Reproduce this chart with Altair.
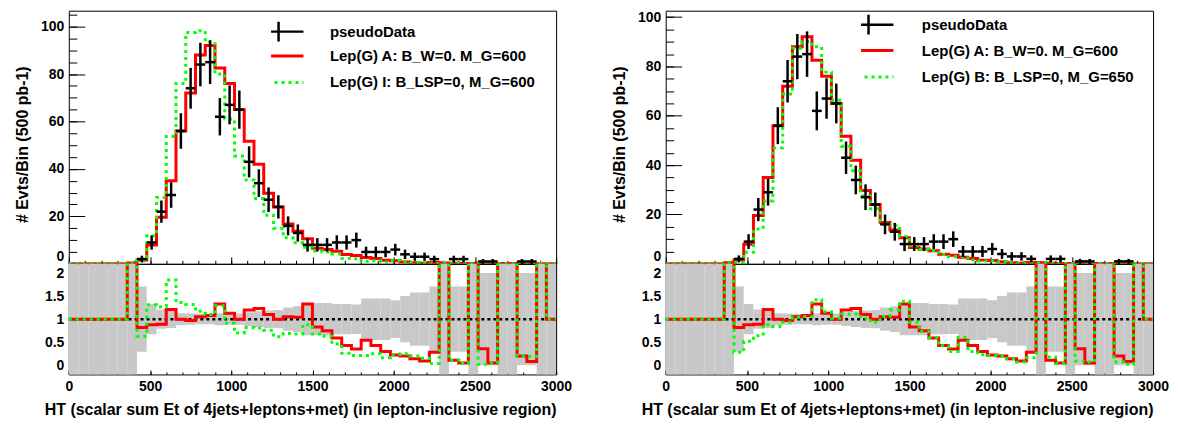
import altair as alt
import pandas as pd

# ---------------- binning ----------------
X_MIN, X_MAX, N_BINS, BIN_WIDTH = 0, 3000, 50, 60

# ---------------- values ----------------
pseudo_data = [0, 0, 0, 0, 0, 0, 0, 2, 9, 22, 29, 56, 74, 84, 85, 62, 67, 65, 43, 34,
               27, 24, 16, 13, 8, 8, 8, 9, 9, 10, 5, 5, 5, 6, 4, 3, 3, 2, 0, 2,
               2, 0, 1, 1, 0, 0, 1, 1, 0, 0]
pseudo_err = [0, 0, 0, 0, 0, 0, 0, 1.41, 3.0, 4.69, 5.39, 7.48, 8.6, 9.17, 9.22, 7.87, 8.19, 8.06, 6.56, 5.83,
              5.2, 4.9, 4.0, 3.61, 2.83, 2.83, 2.83, 3.0, 3.0, 3.16, 2.24, 2.24, 2.24, 2.45, 2.0, 1.73, 1.73, 1.41, 0, 1.41,
              1.41, 0, 1.0, 1.0, 0, 0, 1.0, 1.0, 0, 0]
# half width of the grey band in the ratio pad (9 = whole pad, empty data bin)
band_half = [9, 9, 9, 9, 9, 9, 9, 0.71, 0.33, 0.21, 0.19, 0.13, 0.12, 0.11, 0.11, 0.13, 0.12, 0.12, 0.15, 0.17,
             0.19, 0.2, 0.25, 0.28, 0.35, 0.35, 0.35, 0.33, 0.33, 0.32, 0.45, 0.45, 0.45, 0.41, 0.5, 0.58, 0.58, 0.71, 9, 0.71,
             0.71, 9, 1.0, 1.0, 9, 9, 1.0, 1.0, 9, 9]

lep_a = [0, 0, 0, 0, 0, 0, 0.4, 1.6, 7.9, 19.6, 35, 56, 72, 88, 92, 82.5, 76, 65, 51.7, 42,
         29.7, 24, 16.8, 13.7, 10.6, 6.6, 6.0, 5.3, 3.9, 3.5, 2.7, 2.2, 1.5, 1.3, 0.8, 0.42, 0.27, 0.56, 0.4, 0.22,
         0.1, 0.15, 0.36, 0.05, 0.1, 0.1, 0.2, 0.08, 0.05, 0]
lep_i = [0, 0, 0, 0, 0, 0, 0.3, 1.3, 11.8, 28, 53.7, 76, 97.5, 98.2, 93.5, 80, 61, 45.5, 35.3, 27.5,
         20.5, 15, 11, 8.9, 7.0, 5.4, 5.0, 4.1, 2.3, 2.1, 1.05, 1.25, 0.8, 1.4, 1.0, 0.6, 0.45, 0.08, 0.3, 0.22,
         0.08, 0.1, 0.02, 0.05, 0.1, 0.1, 0.2, 0.19, 0.1, 0]
lep_b = [0, 0, 0, 0, 0, 0, 0.3, 0.56, 4.7, 14.1, 25.5, 47, 68.8, 87.4, 90.1, 88, 77.7, 66.3, 47.7, 37.7,
         27.5, 22.3, 17, 15.6, 11.1, 7.4, 5.8, 5.4, 3.8, 3.0, 3.0, 1.5, 1.15, 1.26, 0.8, 0.42, 0.21, 0.32, 0.3, 0.36,
         0.08, 0.1, 0.09, 0.07, 0.1, 0.1, 0.07, 0.02, 0.1, 0]

# ratio pad (5.0 = off scale, empty data bin)
ratio_a = [1, 1, 1, 1, 1, 1, 5.0, 0.82, 0.88, 0.89, 1.21, 1.0, 0.97, 1.05, 1.08, 1.33, 1.13, 1.0, 1.2, 1.23,
           1.1, 1.0, 1.05, 1.04, 1.33, 0.83, 0.75, 0.59, 0.43, 0.35, 0.54, 0.43, 0.30, 0.22, 0.20, 0.14, 0.09, 0.28, 5.0, 0.11,
           0.05, 5.0, 0.36, 0.05, 5.0, 5.0, 0.2, 0.08, 5.0, 1]
ratio_i = [1, 1, 1, 1, 1, 1, 5.0, 0.63, 1.31, 1.27, 1.85, 1.36, 1.32, 1.17, 1.1, 1.29, 0.91, 0.7, 0.82, 0.81,
           0.76, 0.62, 0.69, 0.68, 0.88, 0.68, 0.63, 0.46, 0.26, 0.21, 0.21, 0.25, 0.16, 0.23, 0.25, 0.2, 0.15, 0.04, 5.0, 0.11,
           0.04, 5.0, 0.02, 0.05, 5.0, 5.0, 0.2, 0.19, 5.0, 1]
ratio_b = [1, 1, 1, 1, 1, 1, 5.0, 0.28, 0.52, 0.64, 0.88, 0.84, 0.93, 1.04, 1.06, 1.42, 1.16, 1.02, 1.11, 1.11,
           1.02, 0.93, 1.06, 1.2, 1.39, 0.93, 0.73, 0.6, 0.42, 0.3, 0.6, 0.3, 0.23, 0.21, 0.2, 0.14, 0.07, 0.16, 5.0, 0.18,
           0.04, 5.0, 0.09, 0.07, 5.0, 5.0, 0.07, 0.02, 5.0, 1]

# ticks / labels
x_major = [0, 500, 1000, 1500, 2000, 2500, 3000]
x_minor = list(range(0, 3001, 100))
y_major = [0, 20, 40, 60, 80, 100]
y_minor_left = list(range(0, 106, 5))
y_minor_right = list(range(0, 101, 5))
r_labels = [0, 0.5, 1, 1.5, 2]

LABEL_DATA = "pseudoData"
LABEL_A = "Lep(G) A: B_W=0. M_G=600"
LABEL_I = "Lep(G) I: B_LSP=0, M_G=600"
LABEL_B = "Lep(G) B: B_LSP=0, M_G=650"
X_TITLE = "HT (scalar sum Et of 4jets+leptons+met) (in lepton-inclusive region)"
Y_TITLE = "# Evts/Bin (500 pb-1)"

RED, GREEN, GREY = "#ff0000", "#00ff00", "#c8c8c8"
FONT = "Liberation Sans"
W, H_TOP, H_RATIO = 489, 254, 111

# ---------------- tables ----------------
edges = [X_MIN + i * BIN_WIDTH for i in range(N_BINS)]


def step_frame(values):
    return pd.DataFrame({"x": edges + [X_MAX], "y": list(values) + [values[-1]]})


data_df = pd.DataFrame({"lo": edges, "v": pseudo_data, "err": pseudo_err})
data_df["hi"] = data_df["lo"] + BIN_WIDTH
data_df["c"] = data_df["lo"] + BIN_WIDTH / 2
data_df["ylo"] = data_df["v"] - data_df["err"]
data_df["yhi"] = data_df["v"] + data_df["err"]
data_df["s"] = LABEL_DATA
data_df = data_df[data_df["v"] > 0]

band_df = pd.DataFrame({"lo": edges, "h": band_half})
band_df["hi"] = band_df["lo"] + BIN_WIDTH
band_df["blo"] = 1 - band_df["h"]
band_df["bhi"] = 1 + band_df["h"]

xs = alt.Scale(domain=[X_MIN, X_MAX], nice=False, zero=False)


def top_panel(mc2, label2, ymax, yminor, lx, ly_data, ly_mc, loff):
    ys = alt.Scale(domain=[0, ymax], nice=False, zero=False)
    ax_x = alt.Axis(orient="bottom", values=x_major, labels=False, tickSize=7, offset=-7,
                    domain=False, grid=False, title=None)
    ax_y = alt.Axis(orient="left", values=y_major, tickSize=16, offset=-16, labelPadding=5,
                    domain=False, grid=False, title=Y_TITLE, titlePadding=10, titleFontSize=16,
                    titleY=134, labelFlush=False, labelOverlap=False,
                    labelBaseline={"condition": {"test": "datum.value === 0", "value": "bottom"},
                                   "value": "middle"})
    ax_xm = alt.Axis(orient="bottom", values=x_minor, labels=False, tickSize=3.5, offset=-3.5,
                     domain=False, grid=False, title=None)
    ax_ym = alt.Axis(orient="left", values=yminor, labels=False, tickSize=8, offset=-8,
                     domain=False, grid=False, title=None)

    mc_domain = [LABEL_A, label2]
    leg_mc = alt.Legend(title=None, orient="none", legendX=lx, legendY=ly_mc, direction="vertical",
                        symbolType="M-5,0H5", symbolSize=100, symbolStrokeWidth=3, clipHeight=24,
                        rowPadding=2.5, labelOffset=loff, padding=0)
    color = alt.Color("s:N", scale=alt.Scale(domain=mc_domain, range=[RED, GREEN]), legend=leg_mc)
    dash = alt.StrokeDash("s:N", scale=alt.Scale(domain=mc_domain, range=[[1, 0], [3, 4]]), legend=leg_mc)

    red = alt.Chart(step_frame(lep_a).assign(s=LABEL_A)).mark_line(
        interpolate="step-after", strokeWidth=3, clip=True).encode(
        x=alt.X("x:Q", scale=xs, axis=ax_x), y=alt.Y("y:Q", scale=ys, axis=ax_y),
        color=color, strokeDash=dash)
    green = alt.Chart(step_frame(mc2).assign(s=label2)).mark_line(
        interpolate="step-after", strokeWidth=3, clip=True).encode(
        x=alt.X("x:Q", scale=xs, axis=ax_x), y=alt.Y("y:Q", scale=ys, axis=ax_y),
        color=color, strokeDash=dash)

    leg_data = alt.Legend(title=None, orient="none", legendX=lx, legendY=ly_data, direction="vertical",
                          symbolType="M-5,0H5M0,-2V2", symbolSize=100, symbolStrokeWidth=2.5,
                          symbolStrokeColor="black", symbolFillColor="transparent", clipHeight=24,
                          labelOffset=loff, padding=0)
    vbar = alt.Chart(data_df).mark_rule(color="black", strokeWidth=2.5).encode(
        x=alt.X("c:Q", scale=xs, axis=ax_x), y=alt.Y("ylo:Q", scale=ys, axis=ax_y), y2="yhi:Q",
        opacity=alt.Opacity("s:N", scale=alt.Scale(domain=[LABEL_DATA], range=[1, 1]), legend=leg_data))
    hbar = alt.Chart(data_df).mark_rule(color="black", strokeWidth=2.5).encode(
        x=alt.X("lo:Q", scale=xs, axis=ax_x), x2="hi:Q", y=alt.Y("v:Q", scale=ys, axis=ax_y))

    ticks = alt.Chart(data_df).mark_point(opacity=0).encode(
        x=alt.X("c:Q", scale=xs, axis=ax_xm), y=alt.Y("v:Q", scale=ys, axis=ax_ym))

    inner = alt.layer(red, green, vbar, hbar)
    return alt.layer(inner, ticks).resolve_scale(x="independent", y="independent").properties(
        width=W, height=H_TOP)


def ratio_panel(r2):
    rs = alt.Scale(domain=[-0.2, 2.2], nice=False, zero=False)
    ax_rx = alt.Axis(orient="bottom", values=x_major, tickSize=4.5, offset=-4.5, labelPadding=5,
                     labelFlush=False, labelOverlap=False, domain=False, grid=False, format="d",
                     title=X_TITLE, titleAnchor="end", titlePadding=8, titleFontSize=16)
    ax_rxm = alt.Axis(orient="bottom", values=x_minor, labels=False, tickSize=2.5, offset=-2.5,
                      domain=False, grid=False, title=None)
    ax_ry = alt.Axis(orient="left", values=r_labels, ticks=False, labelPadding=5, domain=False,
                     grid=False, title=None, format="~g", labelFlush=False, labelOverlap=False)

    band = alt.Chart(band_df).mark_rect(color=GREY, clip=True).encode(
        x=alt.X("lo:Q", scale=xs, axis=ax_rx), x2="hi:Q",
        y=alt.Y("blo:Q", scale=rs, axis=ax_ry), y2="bhi:Q")
    one = alt.Chart(pd.DataFrame({"y": [1.0]})).mark_rule(
        color="black", strokeDash=[3, 3], strokeWidth=2.5).encode(y=alt.Y("y:Q", scale=rs, axis=ax_ry))
    r_red = alt.Chart(step_frame(ratio_a)).mark_line(
        interpolate="step-after", color=RED, strokeWidth=3, clip=True).encode(
        x=alt.X("x:Q", scale=xs, axis=ax_rx), y=alt.Y("y:Q", scale=rs, axis=ax_ry))
    r_green = alt.Chart(step_frame(r2)).mark_line(
        interpolate="step-after", color=GREEN, strokeWidth=3, strokeDash=[3, 4], clip=True).encode(
        x=alt.X("x:Q", scale=xs, axis=ax_rx), y=alt.Y("y:Q", scale=rs, axis=ax_ry))
    rticks = alt.Chart(band_df).mark_point(opacity=0).encode(x=alt.X("lo:Q", scale=xs, axis=ax_rxm))

    inner = alt.layer(band, one, r_red, r_green)
    return alt.layer(inner, rticks).resolve_scale(x="independent").properties(width=W, height=H_RATIO)


def panel(mc2, label2, r2, ymax, yminor, lx, ly_data, ly_mc, loff):
    return alt.vconcat(top_panel(mc2, label2, ymax, yminor, lx, ly_data, ly_mc, loff),
                       ratio_panel(r2), spacing=0, bounds="flush").resolve_scale(
        color="independent", strokeDash="independent", opacity="independent")


left = panel(lep_i, LABEL_I, ratio_i, 106.7, y_minor_left, 203, 9, 33.5, 44)
right = panel(lep_b, LABEL_B, ratio_b, 102.6, y_minor_right, 196, 2, 28, 46)

chart = alt.hconcat(left, right, spacing=38).resolve_scale(
    color="independent", strokeDash="independent", opacity="independent").properties(
    padding={"left": 6, "top": 0, "right": 0, "bottom": 0}, background="white"
).configure(font=FONT).configure_view(stroke="black", strokeWidth=1).configure_axis(
    labelFont=FONT, labelFontSize=14, labelFontWeight="bold", labelColor="black",
    titleFont=FONT, titleFontSize=14, titleFontWeight="bold", titleColor="black",
    tickColor="black", tickWidth=1
).configure_legend(labelFont=FONT, labelFontSize=15, labelFontWeight="bold", labelColor="black",
                   labelLimit=400)

chart.save("out.html", embed_options={"renderer": "svg", "actions": False})
